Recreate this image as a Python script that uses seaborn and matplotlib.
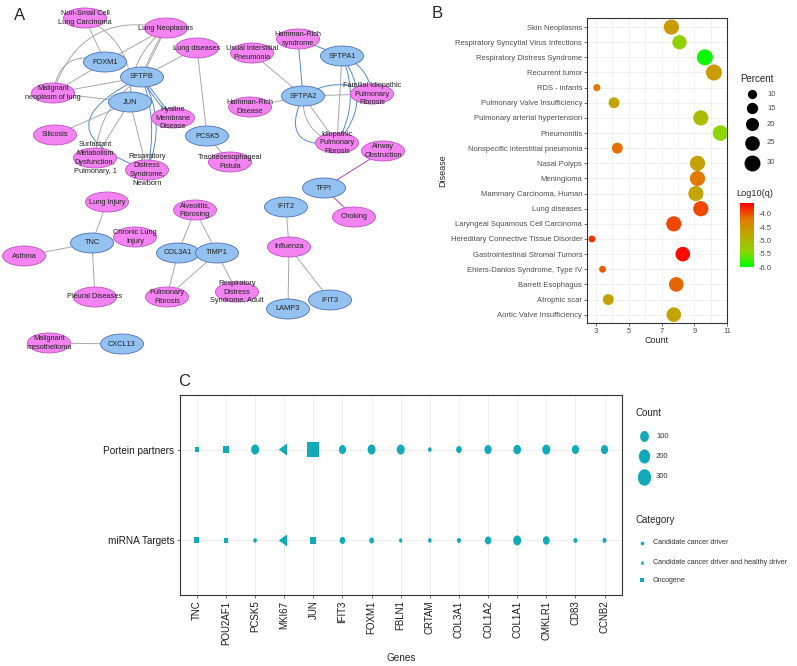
import numpy as np
import pandas as pd
import matplotlib
matplotlib.use("Agg")
import matplotlib.pyplot as plt
import seaborn as sns
from matplotlib.patches import Ellipse, FancyArrowPatch
from matplotlib.path import Path
from matplotlib.colors import LinearSegmentedColormap, Normalize
from matplotlib.cm import ScalarMappable

# ---------------- panel A : gene / disease network ----------------
node_names = ['NSCLC', 'LungNeo', 'LungDis', 'FOXM1', 'SFTPB', 'MalNeo', 'JUN', 'Hyaline',
              'Silicosis', 'PCSK5', 'Surfactant', 'RDSN', 'TEF', 'HRS', 'UIP', 'SFTPA1',
              'SFTPA2', 'HRD', 'FIPF', 'IPF', 'Airway', 'TFPI', 'Choking', 'IFIT2',
              'Influenza', 'RDSA', 'LAMP3', 'IFIT3', 'LungInj', 'TNC', 'CLI', 'Asthma',
              'Pleural', 'Alveolitis', 'COL3A1', 'TIMP1', 'PulFib', 'MalMeso', 'CXCL13']
node_kinds = ['d', 'd', 'd', 'g', 'g', 'd', 'g', 'd',
              'd', 'g', 'd', 'd', 'd', 'd', 'd', 'g',
              'g', 'd', 'd', 'd', 'd', 'g', 'd', 'g',
              'd', 'd', 'g', 'g', 'd', 'g', 'd', 'd',
              'd', 'd', 'g', 'g', 'd', 'd', 'g']
node_labels = ['Non-Small Cell\nLung Carcinoma', 'Lung Neoplasms', 'Lung diseases', 'FOXM1', 'SFTPB',
               'Malignant\nneoplasm of lung', 'JUN', 'Hyaline\nMembrane\nDisease', 'Silicosis', 'PCSK5',
               'Surfactant\nMetabolism\nDysfunction,\nPulmonary, 1',
               'Respiratory\nDistress\nSyndrome,\nNewborn', 'Tracheoesophageal\nFistula',
               'Hamman-Rich\nsyndrome', 'Usual Interstitial\nPneumonia', 'SFTPA1', 'SFTPA2',
               'Hamman-Rich\nDisease', 'Familial Idiopathic\nPulmonary\nFibrosis',
               'Idiopathic\nPulmonary\nFibrosis', 'Airway\nObstruction', 'TFPI', 'Choking', 'IFIT2',
               'Influenza', 'Respiratory\nDistress\nSyndrome, Adult', 'LAMP3', 'IFIT3', 'Lung Injury',
               'TNC', 'Chronic Lung\nInjury', 'Asthma', 'Pleural Diseases', 'Alveolitis,\nFibrosing',
               'COL3A1', 'TIMP1', 'Pulmonary\nFibrosis', 'Malignant\nmesothelioma', 'CXCL13']
# layout of the network (pixel space of panel A)
node_x = [85, 166, 197, 105, 142, 53, 130, 173, 55, 207, 95, 147, 230, 298, 252, 342,
          303, 250, 372, 337, 383, 324, 354, 286, 289, 237, 288, 330, 107, 92, 135, 24,
          95, 195, 178, 217, 167, 49, 122]
node_y = [18, 28, 48, 62, 77, 93, 102, 118, 135, 136, 158, 170, 162, 39, 53, 56,
          96, 107, 94, 143, 151, 188, 217, 207, 247, 292, 309, 300, 202, 243, 237, 256,
          297, 210, 253, 253, 297, 343, 344]

edge_src = ['NSCLC', 'NSCLC', 'LungNeo', 'LungNeo', 'LungNeo', 'LungNeo', 'LungNeo', 'LungDis',
            'LungDis', 'FOXM1', 'MalNeo', 'MalNeo', 'MalNeo', 'Silicosis', 'JUN', 'JUN',
            'SFTPB', 'SFTPB', 'SFTPB', 'SFTPB', 'SFTPB', 'SFTPB', 'PCSK5',
            'HRS', 'HRS', 'UIP', 'HRD', 'SFTPA1', 'SFTPA1', 'SFTPA1', 'SFTPA1', 'SFTPA2',
            'SFTPA2', 'SFTPA2', 'SFTPA2', 'SFTPA2', 'TFPI', 'TFPI', 'IFIT2', 'Influenza',
            'Influenza', 'TNC', 'TNC', 'TNC', 'TNC', 'COL3A1', 'TIMP1', 'COL3A1', 'TIMP1',
            'TIMP1', 'CXCL13']
edge_dst = ['FOXM1', 'JUN', 'MalNeo', 'FOXM1', 'SFTPB', 'SFTPB', 'JUN', 'SFTPB',
            'PCSK5', 'MalNeo', 'FOXM1', 'SFTPB', 'JUN', 'JUN', 'Surfactant', 'RDSN',
            'Surfactant', 'Hyaline', 'Hyaline', 'RDSN', 'RDSN', 'RDSN', 'TEF',
            'SFTPA2', 'SFTPA1', 'SFTPA2', 'SFTPA2', 'IPF', 'FIPF', 'IPF', 'IPF', 'FIPF',
            'FIPF', 'IPF', 'IPF', 'IPF', 'Airway', 'Choking', 'Influenza', 'LAMP3',
            'IFIT3', 'LungInj', 'CLI', 'Asthma', 'Pleural', 'Alveolitis', 'Alveolitis', 'PulFib',
            'PulFib', 'RDSA', 'MalMeso']
edge_rad = [0, -0.35, 0.45, 0, 0, 0.06, 0.25, 0,
            0, 0, -0.6, 0, 0, 0, 0, 0,
            0.25, 0, 0.1, 1.2, -0.15, -0.25, 0,
            0, 0, 0, 0, 0, -0.3, -0.25, -0.4, 0,
            -0.3, 0, 0.4, 0.9, 0, 0, 0, 0,
            0, 0, 0, 0, 0, 0, 0, 0,
            0, 0, 0]
edge_kind = ['g', 'g', 'g', 'g', 'g', 'g', 'g', 'g',
             'g', 'g', 'g', 'g', 'g', 'g', 'g', 'g',
             'g', 'b', 'b', 'b', 'b', 'b', 'g',
             'b', 'b', 'g', 'g', 'g', 'b', 'b', 'b', 'g',
             'b', 'g', 'g', 'b', 'm', 'm', 'g', 'g',
             'g', 'g', 'g', 'g', 'g', 'g', 'g', 'g',
             'g', 'g', 'g']

# ---------------- panel B : disease enrichment ----------------
diseases = ['Skin Neoplasms', 'Respiratory Syncytial Virus Infections', 'Respiratory Distress Syndrome',
            'Recurrent tumor', 'RDS - infants', 'Pulmonary Valve Insufficiency',
            'Pulmonary arterial hypertension', 'Pneumonitis', 'Nonspecific interstitial pneumonia',
            'Nasal Polyps', 'Meningioma', 'Mammary Carcinoma, Human', 'Lung diseases',
            'Laryngeal Squamous Cell Carcinoma', 'Hereditary Connective Tissue Disorder',
            'Gastrointestinal Stromal Tumors', 'Ehlers-Danlos Syndrome, Type IV', 'Barrett Esophagus',
            'Atrophic scar', 'Aortic Valve Insufficiency']
disease_count = [7.6, 8.1, 9.65, 10.2, 3.05, 4.1, 9.4, 10.6, 4.3, 9.2,
                 9.2, 9.1, 9.4, 7.75, 2.75, 8.3, 3.4, 7.9, 3.75, 7.75]
disease_percent = [27, 24, 30, 31, 6, 14, 27, 28, 14, 27,
                   27, 27, 27, 27, 5.5, 25, 5.5, 25, 14, 25]
disease_log10q = [-4.6, -5.35, -5.95, -4.6, -4.2, -4.75, -5.05, -5.4, -4.15, -4.7,
                  -4.2, -4.75, -3.95, -3.95, -3.85, -3.65, -4.05, -4.1, -4.7, -4.75]

# ---------------- panel C : gene annotation ----------------
genes = ['TNC', 'POU2AF1', 'PCSK5', 'MKI67', 'JUN', 'IFIT3', 'FOXM1', 'FBLN1', 'CRTAM',
         'COL3A1', 'COL1A2', 'COL1A1', 'CMKLR1', 'CD83', 'CCNB2']
gene_category = ['Oncogene', 'Oncogene', 'Candidate cancer driver',
                 'Candidate cancer driver and healthy driver', 'Oncogene'] + ['Candidate cancer driver'] * 10
partner_counts = [16, 44, 75, 52, 310, 54, 75, 75, 2, 22, 54, 64, 75, 54, 54]
mirna_counts = [19, 8, 2, 52, 44, 22, 11, 1, 2, 4, 36, 75, 44, 4, 4]
rows_c = ['Portein partners', 'miRNA Targets']
categories = ['Candidate cancer driver', 'Candidate cancer driver and healthy driver', 'Oncogene']
count_breaks = [100, 200, 300]
percent_breaks = [10, 15, 20, 25, 30]
q_ticks = [-4.0, -4.5, -5.0, -5.5, -6.0]

W, H = 797, 666
TEAL = '#10aab8'

sns.set_theme(style='white')
plt.rcParams['font.family'] = ['Liberation Sans', 'DejaVu Sans']

fig = plt.figure(figsize=(W / 100, H / 100), dpi=100)


def px_axes(x0, y0, x1, y1):
    return fig.add_axes([x0 / W, 1 - y1 / H, (x1 - x0) / W, (y1 - y0) / H])


# ---- A
axA = px_axes(0, 0, 420, 365)
axA.set_xlim(0, 420)
axA.set_ylim(365, 0)
axA.axis('off')
pos = {n: (x, y) for n, x, y in zip(node_names, node_x, node_y)}
edge_colors = {'g': '#a8a8a8', 'b': '#4f8bd0', 'm': '#c23fc8'}
for s, t, rad, kind in zip(edge_src, edge_dst, edge_rad, edge_kind):
    axA.add_patch(FancyArrowPatch(pos[s], pos[t], connectionstyle=f'arc3,rad={rad}',
                                  arrowstyle='-', color=edge_colors[kind], lw=0.7,
                                  shrinkA=0, shrinkB=0, zorder=1))
for name, kind, lab in zip(node_names, node_kinds, node_labels):
    x, y = pos[name]
    if kind == 'g':
        fc, ec = '#93c1f0', '#4d6fb8'
    else:
        fc, ec = '#f283f0', '#c24fc4'
    axA.add_patch(Ellipse((x, y), 43, 20, facecolor=fc, edgecolor=ec, lw=0.6, zorder=2))
    axA.text(x, y, lab, ha='center', va='center', fontsize=5.3, linespacing=1.35,
             color='#222222', zorder=3)

# ---- B
dfB = pd.DataFrame({'Disease': diseases, 'Count': disease_count,
                    'Percent': disease_percent, 'q': disease_log10q})
qcmap = LinearSegmentedColormap.from_list('q', ['#00ff00', '#8fd400', '#bfa900', '#e27a00', '#ff0000'])
qnorm = Normalize(-6.0, -3.6)
axB = px_axes(587, 18, 727, 323)
sns.scatterplot(data=dfB, x='Count', y='Disease', hue='q', palette=qcmap, hue_norm=qnorm,
                size='Percent', sizes=(0, 132.7), size_norm=(0, 30), linewidth=0,
                legend=False, ax=axB, zorder=3)
axB.set_xlim(2.45, 11.0)
axB.set_ylim(len(diseases) - 0.45, -0.6)
axB.set_xticks([3, 5, 7, 9, 11])
axB.set_xticks([4, 6, 8, 10], minor=True)
axB.grid(which='both', color='#ebebeb', lw=0.5)
axB.set_axisbelow(True)
axB.tick_params(which='major', length=2, width=0.5, color='#333333', labelsize=5.5,
                labelcolor='#4d4d4d', pad=1.5, left=True, bottom=True)
axB.tick_params(which='minor', length=0)
for sp in axB.spines.values():
    sp.set_color('#333333')
    sp.set_linewidth(0.8)
axB.set_xlabel('Count', fontsize=6.5, labelpad=1)
axB.set_ylabel('Disease', fontsize=6.5, labelpad=2)

cax = px_axes(740, 203, 754, 267)
cb = fig.colorbar(ScalarMappable(norm=qnorm, cmap=qcmap), cax=cax)
cb.set_ticks(q_ticks)
cb.set_ticklabels([f'{v:.1f}' for v in q_ticks])
cb.outline.set_visible(False)
cax.tick_params(length=0, labelsize=5.5, labelcolor='#4d4d4d', pad=3)

# ---- C
dfC = pd.DataFrame({'Gene': genes * 2,
                    'Type': [rows_c[0]] * len(genes) + [rows_c[1]] * len(genes),
                    'Count': partner_counts + mirna_counts,
                    'Category': gene_category * 2})


def shape(xs, ys):
    # shared normalisation through two invisible anchor vertices
    verts = [(0, 0.7), (0, -0.7)] + list(zip(xs, ys)) + [(xs[0], ys[0])]
    codes = [Path.MOVETO, Path.MOVETO, Path.MOVETO] + [Path.LINETO] * (len(xs) - 1) + [Path.CLOSEPOLY]
    return Path(verts, codes)


sq = 0.8
t = np.linspace(0, 2 * np.pi, 40, endpoint=False)
ellipse_m = shape(list(0.5 * sq * np.cos(t)), list(0.5 * np.sin(t)))
square_m = shape([-0.443 * sq, 0.443 * sq, 0.443 * sq, -0.443 * sq], [-0.443, -0.443, 0.443, 0.443])
tri_m = shape([-0.777 * sq, 0.389 * sq, 0.389 * sq], [0, 0.673, -0.673])
cat_markers = dict(zip(categories, [ellipse_m, tri_m, square_m]))


def count_area(c):
    d = 3.5 + 0.75 * np.sqrt(c)
    return (1.008 * d) ** 2


count_sizes = {c: count_area(c) for c in set(dfC['Count'])}

axC = px_axes(180, 395, 622, 595)
sns.scatterplot(data=dfC, x='Gene', y='Type', style='Category', markers=cat_markers,
                size='Count', sizes=count_sizes, color=TEAL, linewidth=0,
                legend=False, ax=axC, zorder=3)
axC.set_xlim(-0.58, len(genes) - 0.4)
axC.set_ylim(1.6, -0.6)
axC.grid(color='#ebebeb', lw=0.6)
axC.set_axisbelow(True)
for sp in axC.spines.values():
    sp.set_color('#333333')
    sp.set_linewidth(0.8)
axC.tick_params(length=2, width=0.5, color='#333333', left=True, bottom=True, pad=2)
axC.tick_params(axis='x', labelrotation=90, labelsize=7, labelcolor='#1a1a1a')
axC.tick_params(axis='y', labelsize=7.2, labelcolor='#1a1a1a')
axC.set_xlabel('Genes', fontsize=7.2, labelpad=6)
axC.set_ylabel('')

# ---- overlay: panel letters and legends
ov = fig.add_axes([0, 0, 1, 1])
ov.set_xlim(0, W)
ov.set_ylim(H, 0)
ov.axis('off')
ov.text(14, 15, 'A', fontsize=12, va='center')
ov.text(432, 14, 'B', fontsize=12, va='center')
ov.text(178, 381, 'C', fontsize=12, va='center')

ov.text(757, 79, 'Percent', fontsize=7, ha='center', va='center')
for yy, p in zip([94, 108, 124, 143, 163], percent_breaks):
    ov.scatter([752], [yy], s=132.7 * p / 30, color='black', lw=0)
    ov.text(767, yy, str(p), fontsize=5.5, color='#4d4d4d', va='center')
ov.text(736, 193, 'Log10(q)', fontsize=6.6, va='center')

ov.text(636, 413, 'Count', fontsize=7, va='center')
for yy, c in zip([436, 456, 477], count_breaks):
    ov.scatter([644], [yy], s=count_area(c), marker=ellipse_m, color=TEAL, lw=0)
    ov.text(656, yy, str(c), fontsize=5.5, va='center', color='#333333')
ov.text(636, 520, 'Category', fontsize=7, va='center')
for yy, cat, mk, ss in zip([543, 562, 580], categories, ['o', '^', 's'], [7, 8, 6]):
    ov.scatter([642], [yy], s=ss, marker=mk, color=TEAL, lw=0)
    ov.text(653, yy, cat, fontsize=5.1, va='center', color='#333333')

fig.savefig('out.png', dpi=100)
